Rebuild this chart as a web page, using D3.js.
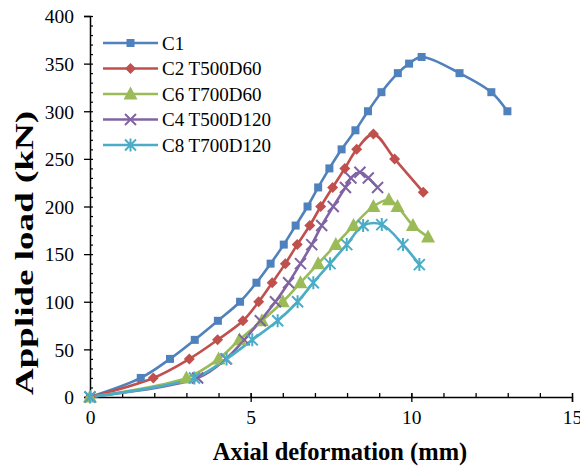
<!DOCTYPE html>
<html><head><meta charset="utf-8">
<script src="https://cdn.jsdelivr.net/npm/d3@7"></script>
<style>body{margin:0;background:#fff}svg{display:block}</style>
</head><body><svg id="c" width="580" height="466"></svg>
<script>
const seriesNames = ["C1","C2 T500D60","C6 T700D60","C4 T500D120","C8 T700D120"];
const c1 = [[0,0],[1.58,20],[2.49,40],[3.26,60],[3.98,80],[4.67,100],[5.18,120],[5.62,140],[6.03,160],[6.4,180],[6.77,200],[7.1,220],[7.45,240],[7.83,260],[8.26,280],[8.65,300],[9.07,320],[9.58,340],[9.93,350],[10.32,357],[11.5,340],[12.49,320],[12.99,300]];
const c2 = [[0,0],[1.97,20],[3.09,40],[3.97,60],[4.76,80],[5.25,100],[5.67,120],[6.08,140],[6.45,160],[6.84,180],[7.18,200],[7.55,220],[7.93,240],[8.3,260],[8.82,276],[9.48,250],[10.37,215]];
const c6 = [[0,0],[3.0,20],[4.0,40],[4.65,60],[5.35,80],[6.0,100],[6.55,120],[7.1,140],[7.65,160],[8.2,180],[8.82,200],[9.3,207],[9.57,200],[10.05,180],[10.52,168]];
const c4 = [[0,0],[3.35,20],[4.23,40],[4.8,60],[5.3,80],[5.77,100],[6.18,120],[6.55,140],[6.9,160],[7.21,180],[7.57,200],[7.95,220],[8.12,230],[8.4,236],[8.66,230],[8.95,220]];
const c8 = [[0,0],[3.25,20],[4.25,40],[5.05,60],[5.84,80],[6.46,100],[6.95,120],[7.47,140],[7.99,160],[8.5,180],[9.08,181],[9.74,160],[10.25,139]];
const xTicks = [0,5,10,15];
const yTicks = [0,50,100,150,200,250,300,350,400];
const colors = ["#4F81BD","#C0504D","#9BBB59","#8064A2","#4BACC6"];
const markers = ["square","diamond","triangle","cross","star"];
const allSeries = [c1,c2,c6,c4,c8];

const svg = d3.select("#c");
const L=90,R=572,T=16,B=397;
const x = d3.scaleLinear().domain([0,15]).range([L,R]);
const y = d3.scaleLinear().domain([0,400]).range([B,T]);
const font = "'Liberation Serif','Times New Roman',serif";

// axes
const gx = svg.append("g").attr("transform",`translate(0,${B})`);
gx.call(d3.axisBottom(x).tickValues(d3.range(0,16,1)).tickSize(-4).tickFormat(""));
gx.call(g=>g.selectAll(".tick line").attr("stroke","#000").attr("stroke-width",1.3));
const gx2 = svg.append("g").attr("transform",`translate(0,${B})`);
gx2.call(d3.axisBottom(x).tickValues(xTicks).tickSize(5).tickFormat(d3.format("d")));
gx2.selectAll(".tick line").attr("y1",-4).attr("stroke","#000").attr("stroke-width",1.3);
gx2.selectAll("text").attr("font-family",font).attr("font-size",19.5).attr("fill","#000").attr("y",13);
gx.select(".domain").remove(); 
gx2.select(".domain").attr("stroke","#000").attr("stroke-width",1.5);

const gy = svg.append("g").attr("transform",`translate(${L},0)`);
gy.call(d3.axisLeft(y).tickValues(d3.range(0,401,10)).tickSize(-3).tickFormat(""));
gy.selectAll(".tick line").attr("stroke","#000").attr("stroke-width",1.2);
gy.select(".domain").remove();
const gy2 = svg.append("g").attr("transform",`translate(${L},0)`);
gy2.call(d3.axisLeft(y).tickValues(yTicks).tickSize(6).tickFormat(d3.format("d")));
gy2.selectAll(".tick line").attr("stroke","#000").attr("stroke-width",1.3);
gy2.selectAll("text").attr("font-family",font).attr("font-size",19.5).attr("fill","#000").attr("x",-16);
gy2.select(".domain").attr("stroke","#000").attr("stroke-width",1.5);
svg.selectAll(".tick text").attr("dy","0.35em");
gx2.selectAll("text").attr("dy","0.71em");

// titles
svg.append("text").attr("x",340).attr("y",460).attr("text-anchor","middle")
  .attr("font-family",font).attr("font-weight","bold").attr("font-size",24.5).text("Axial deformation (mm)");
svg.append("text").attr("transform","translate(33,253) rotate(-90)").attr("text-anchor","middle")
  .attr("textLength",284).attr("lengthAdjust","spacingAndGlyphs")
  .attr("font-family",font).attr("font-weight","bold").attr("font-size",25).text("Applide load (kN)");

// marker drawing
function drawMarker(g, type, color, cx, cy){
  if(type==="square"){
    g.append("rect").attr("x",cx-4).attr("y",cy-4).attr("width",8).attr("height",8).attr("fill",color);
  } else if(type==="diamond"){
    g.append("path").attr("d",`M${cx},${cy-5.5}L${cx+5.5},${cy}L${cx},${cy+5.5}L${cx-5.5},${cy}Z`).attr("fill",color);
  } else if(type==="triangle"){
    g.append("path").attr("d",`M${cx},${cy-7.5}L${cx+7},${cy+5.5}L${cx-7},${cy+5.5}Z`).attr("fill",color);
  } else if(type==="cross"){
    g.append("path").attr("d",`M${cx-5.5},${cy-5.5}L${cx+5.5},${cy+5.5}M${cx-5.5},${cy+5.5}L${cx+5.5},${cy-5.5}`).attr("stroke",color).attr("stroke-width",2);
  } else if(type==="star"){
    g.append("path").attr("d",`M${cx-5.5},${cy-5.5}L${cx+5.5},${cy+5.5}M${cx-5.5},${cy+5.5}L${cx+5.5},${cy-5.5}M${cx},${cy-6.5}L${cx},${cy+6.5}`).attr("stroke",color).attr("stroke-width",2);
  }
}

const line = d3.line().x(d=>x(d[0])).y(d=>y(d[1])).curve(d3.curveCatmullRom.alpha(0.5));
const order = [0,1,2,3,4];
order.forEach(i=>{
  svg.append("path").datum(allSeries[i]).attr("d",line).attr("fill","none")
    .attr("stroke",colors[i]).attr("stroke-width",2.6);
});
order.forEach(i=>{
  const g = svg.append("g");
  allSeries[i].forEach(d=>drawMarker(g,markers[i],colors[i],x(d[0]),y(d[1])));
});

// legend
const legY = [43,68.5,94,119.5,145];
seriesNames.forEach((n,i)=>{
  const g = svg.append("g");
  g.append("line").attr("x1",103).attr("x2",158).attr("y1",legY[i]).attr("y2",legY[i]).attr("stroke",colors[i]).attr("stroke-width",2.6);
  drawMarker(g,markers[i],colors[i],130.5,legY[i]);
  g.append("text").attr("x",162).attr("y",legY[i]).attr("dy","0.35em").attr("font-family",font).attr("font-size",19).attr("fill","#000").text(n);
});
</script></body></html>
